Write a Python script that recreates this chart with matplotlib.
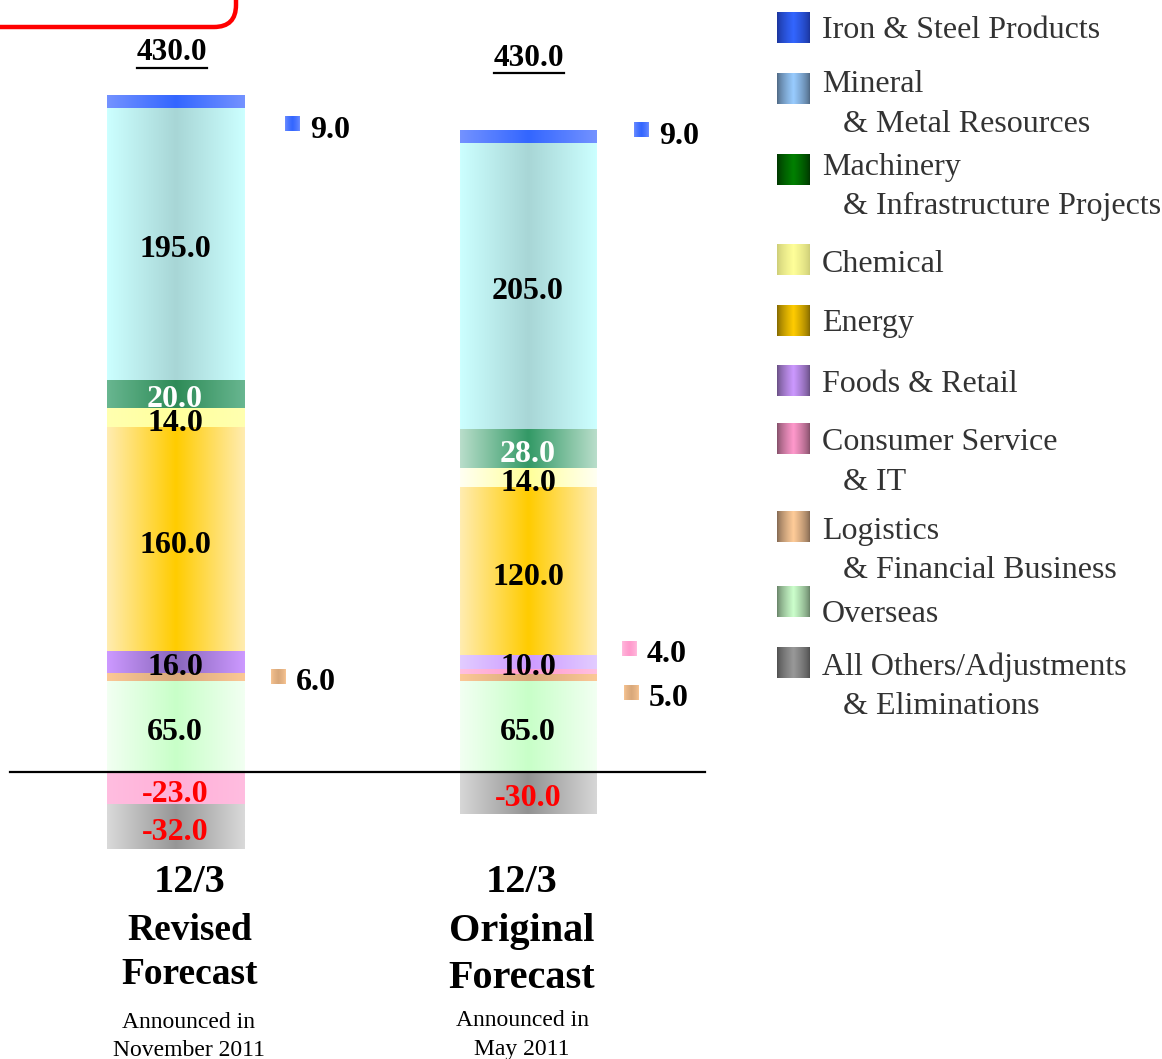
import numpy as np
import matplotlib
matplotlib.use("Agg")
import matplotlib.pyplot as plt
from matplotlib.colors import to_rgb
from matplotlib.patches import FancyBboxPatch

# ---------------- data ----------------
segments = ['Overseas', 'Logistics', 'Consumer', 'Foods', 'Energy',
            'Chemical', 'Machinery', 'Mineral', 'Iron', 'Others']
bar_keys = ['revised', 'original']
revised_values = [65.0, 6.0, -23.0, 16.0, 160.0, 14.0, 20.0, 195.0, 9.0, -32.0]
original_values = [65.0, 5.0, 4.0, 10.0, 120.0, 14.0, 28.0, 205.0, 9.0, -30.0]
totals = [430.0, 430.0]
bar_titles = [['12/3', 'Revised', 'Forecast'], ['12/3', 'Original', 'Forecast']]
bar_notes = [['Announced in', 'November 2011'], ['Announced in', 'May 2011']]

legend_order = ['Iron', 'Mineral', 'Machinery', 'Chemical', 'Energy', 'Foods',
                'Consumer', 'Logistics', 'Overseas', 'Others']
legend_labels = [['Iron & Steel Products'],
                 ['Mineral', '& Metal Resources'],
                 ['Machinery', '& Infrastructure Projects'],
                 ['Chemical'],
                 ['Energy'],
                 ['Foods & Retail'],
                 ['Consumer Service', '& IT'],
                 ['Logistics', '& Financial Business'],
                 ['Overseas'],
                 ['All Others/Adjustments', '& Eliminations']]

# ---------------- styles ----------------
bar_colors = [
    {'Iron': ('#7392ff', '#3366ff'), 'Mineral': ('#ccffff', '#a8d6d6'),
     'Machinery': ('#68b690', '#2e8b57'), 'Chemical': ('#ffffb0', '#ffff9c'),
     'Energy': ('#ffecb0', '#ffcc00'), 'Foods': ('#cc99ff', '#8866bb'),
     'Consumer': ('#ffbde0', '#ffb0d8'), 'Logistics': ('#fbc896', '#d9a87a'),
     'Overseas': ('#f2fff2', '#c8ffc8'), 'Others': ('#d9d9d9', '#969696')},
    {'Iron': ('#7392ff', '#3366ff'), 'Mineral': ('#ccffff', '#a8d6d6'),
     'Machinery': ('#b8ddca', '#339966'), 'Chemical': ('#fffff2', '#ffff99'),
     'Energy': ('#ffecb0', '#ffcc00'), 'Foods': ('#e2ccff', '#cc99ff'),
     'Consumer': ('#ffc0e0', '#ff99cc'), 'Logistics': ('#fbc896', '#d9a87a'),
     'Overseas': ('#f2fff2', '#c8ffc8'), 'Others': ('#d6d6d6', '#929292')},
]
legend_colors = {'Iron': ('#1a3399', '#3366ff'), 'Mineral': ('#4d6680', '#99ccff'),
                 'Machinery': ('#003300', '#008000'), 'Chemical': ('#cccc77', '#ffff99'),
                 'Energy': ('#806600', '#ffcc00'), 'Foods': ('#664d80', '#cc99ff'),
                 'Consumer': ('#804d66', '#ff99cc'), 'Logistics': ('#806650', '#ffcc99'),
                 'Overseas': ('#668066', '#ccffcc'), 'Others': ('#4d4d4d', '#999999')}
label_color = {'Machinery': 'white'}

SERIF = ['Liberation Serif', 'DejaVu Serif']
plt.rcParams['font.family'] = SERIF

W, H = 1162, 1059
fig = plt.figure(figsize=(W / 100, H / 100), dpi=100)

PX_PER_UNIT = 1.395
ZERO_PX = 772
X_PX_PER_UNIT = 353
X0_PX = 175
ax = fig.add_axes([0, 0, 1, 1])
ax.axis('off')

bar_width = 137 / X_PX_PER_UNIT


def gradient(edge, center, n=128, p=1.0):
    t = np.linspace(-1, 1, n)
    f = (1 - np.abs(t)) ** p
    e = np.array(to_rgb(edge))
    c = np.array(to_rgb(center))
    return (e[None, :] + (c - e)[None, :] * f[:, None])[None, :, :]


all_values = [revised_values, original_values]
for bi, vals in enumerate(all_values):
    xc = bi
    pos_base, neg_base = 0.0, 0.0
    for seg, v in zip(segments, vals):
        if v >= 0:
            y0, y1 = pos_base, pos_base + v
            pos_base = y1
        else:
            y0, y1 = neg_base + v, neg_base
            neg_base = y0
        edge, center = bar_colors[bi][seg]
        rect = ax.bar(xc, y1 - y0, bottom=y0, width=bar_width, color='none',
                      edgecolor='none', zorder=2)[0]
        im = ax.imshow(gradient(edge, center), extent=[xc - bar_width / 2, xc + bar_width / 2, y0, y1],
                       aspect='auto', interpolation='bilinear', zorder=2)
        im.set_clip_path(rect)
        if abs(v) >= 10:
            col = 'red' if v < 0 else label_color.get(seg, 'black')
            ax.annotate(f'{v:.1f}', xy=(xc, (y0 + y1) / 2), xytext=(0, -6),
                        textcoords='offset pixels', ha='center', va='center',
                        fontsize=23, fontweight='bold', color=col, zorder=5)

ax.set_ylim(-(H - ZERO_PX) / PX_PER_UNIT, ZERO_PX / PX_PER_UNIT)
ax.set_xlim(-X0_PX / X_PX_PER_UNIT, (W - X0_PX) / X_PX_PER_UNIT)
ax.plot([(10 - X0_PX) / X_PX_PER_UNIT, (705 - X0_PX) / X_PX_PER_UNIT], [0, 0],
        color='black', lw=1.6, zorder=4)

# ---------------- overlay in pixel coordinates ----------------
ov = fig.add_axes([0, 0, 1, 1])
ov.axis('off')
ov.patch.set_alpha(0)
DY = 3  # va='center' sits slightly high for this font

ov.add_patch(FancyBboxPatch((-60, -120), 296, 147,
                            boxstyle='round,pad=0,rounding_size=22',
                            fill=False, edgecolor='#ff0000', lw=3.2, zorder=6))

callouts = {(0, 'Iron'): (285, 124), (0, 'Logistics'): (271, 677),
            (1, 'Iron'): (634, 130), (1, 'Consumer'): (622, 649),
            (1, 'Logistics'): (624, 693)}
for (bi, seg), (mx, my) in callouts.items():
    v = all_values[bi][segments.index(seg)]
    edge, center = bar_colors[bi][seg]
    g = gradient(edge, center, p=0.6)
    ov.imshow(g, extent=[mx, mx + 15, my + 7.5, my - 7.5], aspect='auto',
              interpolation='bilinear', zorder=5)
    ov.text(mx + 25, my + 3 + DY, f'{v:.1f}', ha='left', va='center', fontsize=23,
            fontweight='bold', color='black', zorder=6)

total_pos = [(172, 50), (529, 55)]
tot_texts = []
for (tx, ty), tv in zip(total_pos, totals):
    tot_texts.append(ov.text(tx, ty + DY, f'{tv:.1f}', ha='center', va='center', fontsize=22.5,
                             fontweight='bold', color='black', zorder=6))

title_pos = [[(190, 880), (190, 927), (190, 971)], [(522, 880), (522, 929), (522, 975)]]
title_size = [[29, 27, 27], [29, 29, 29]]
for bi in range(2):
    for (tx, ty), s, fs in zip(title_pos[bi], bar_titles[bi], title_size[bi]):
        ov.text(tx, ty + DY, s, ha='center', va='center', fontsize=fs, fontweight='bold', color='black')
note_pos = [[(189, 1021), (189, 1048)], [(522, 1019), (522, 1047)]]
for bi in range(2):
    for (tx, ty), s in zip(note_pos[bi], bar_notes[bi]):
        ov.text(tx, ty + 2, s, ha='center', va='center', fontsize=17, color='black')

legend_box_y = [12, 73, 154, 244, 305, 365, 423, 511, 586, 647]
legend_text_y = [[28], [82, 121], [164, 203], [261], [320], [382], [440, 479],
                 [529, 568], [611], [664, 703]]
for key, by, lines, ys in zip(legend_order, legend_box_y, legend_labels, legend_text_y):
    edge, center = legend_colors[key]
    ov.imshow(gradient(edge, center, p=0.7), extent=[777, 810, by + 31, by], aspect='auto',
              interpolation='bilinear', zorder=5)
    for li, (line, ly) in enumerate(zip(lines, ys)):
        ov.text(822 if li == 0 else 843, ly + DY, line, ha='left', va='center', fontsize=23,
                color='#333333', zorder=6)

ov.set_xlim(0, W)
ov.set_ylim(H, 0)

fig.canvas.draw()
inv = ov.transData.inverted()
for t in tot_texts:
    bb = t.get_window_extent()
    (x0, y0), (x1, y1) = inv.transform([(bb.x0, bb.y0), (bb.x1, bb.y1)])
    ybot = max(y0, y1)
    ov.plot([x0, x1], [ybot, ybot], color='black', lw=1.6, zorder=6)

fig.savefig('out.png', dpi=100)
